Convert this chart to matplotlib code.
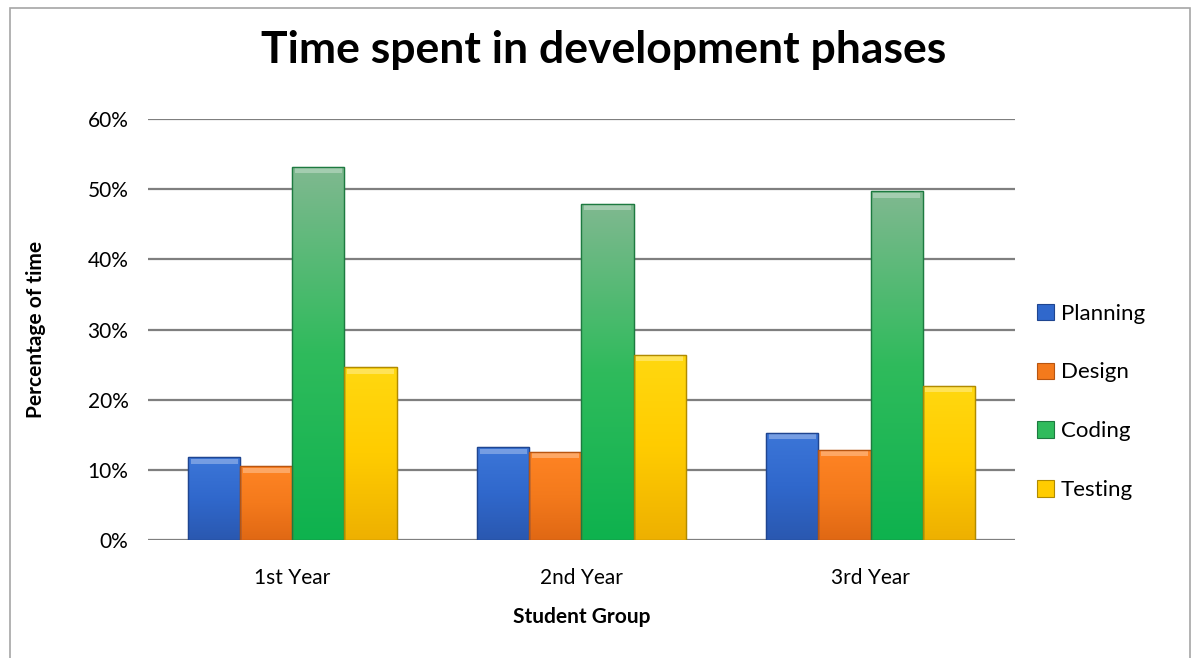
import numpy as np
import matplotlib.pyplot as plt
from matplotlib.colors import LinearSegmentedColormap
from matplotlib.patches import Rectangle
from matplotlib.ticker import PercentFormatter

plt.rcParams['font.family'] = ['Lato', 'DejaVu Sans']

groups = ['1st Year', '2nd Year', '3rd Year']
phases = ['Planning', 'Design', 'Coding', 'Testing']
planning = [11.8, 13.2, 15.3]
design = [10.5, 12.6, 12.9]
coding = [53.2, 47.9, 49.7]
testing = [24.6, 26.4, 22.0]

# (top, middle, bottom) shades for the bevelled look
shades = {
    'Planning': ('#3c76d8', '#3068cc', '#2a58b0'),
    'Design': ('#ff8424', '#f47a1c', '#e06814'),
    'Coding': ('#80b890', '#2fbb5c', '#0eb24e'),
    'Testing': ('#ffd810', '#ffcc00', '#eeb000'),
}
edges = {'Planning': '#1f4590', 'Design': '#b85510',
         'Coding': '#1d7a40', 'Testing': '#b08a00'}


def gradient_bars(ax, bars, name):
    cmap = LinearSegmentedColormap.from_list(name, list(shades[name]))
    grad = np.linspace(0, 1, 256).reshape(-1, 1)
    for b in bars:
        x0, y0 = b.get_x(), b.get_y()
        w, h = b.get_width(), b.get_height()
        im = ax.imshow(grad, cmap=cmap, aspect='auto', origin='upper',
                       extent=(x0, x0 + w, y0, y0 + h), zorder=3)
        im.set_clip_path(b)
        # light strip at the top of each bar
        ax.add_patch(Rectangle((x0 + w * 0.05, y0 + h - 0.9), w * 0.9, 0.7,
                               color='white', alpha=0.3, lw=0, zorder=4))
        # outline drawn above the gradient
        ax.add_patch(Rectangle((x0, y0), w, h, fill=False,
                               edgecolor=edges[name], lw=1.0, zorder=5))


fig = plt.figure(figsize=(11.95, 6.58), dpi=100)
ax = fig.add_axes([0.1238, 0.1793, 0.7256, 0.6398])

# chart frame
fig.patches.append(Rectangle((10 / 1195, -0.01), 1180 / 1195, 1 - 8 / 658 + 0.01,
                             transform=fig.transFigure, fill=False,
                             edgecolor='#a6a6a6', lw=1.2))

x = np.arange(len(groups))
w = 0.18
series = [planning, design, coding, testing]
for i, (name, vals) in enumerate(zip(phases, series)):
    bars = ax.bar(x + (i - 1.5) * w, vals, w, color=shades[name][1],
                  edgecolor=edges[name], linewidth=0.8, label=name, zorder=2)
    gradient_bars(ax, bars, name)

ax.set_xlim(-0.5, 2.5)
ax.set_ylim(0, 60)
ax.set_yticks(np.arange(0, 61, 10))
ax.yaxis.set_major_formatter(PercentFormatter(decimals=0))
ax.grid(axis='y', color='#7f7f7f', lw=1.6, zorder=0)
ax.set_axisbelow(True)
for s in ax.spines.values():
    s.set_visible(False)
ax.tick_params(length=0, labelsize=15)
ax.tick_params(axis='y', pad=14)
ax.set_xticks(x)
ax.set_xticklabels(groups)
ax.tick_params(axis='x', pad=20)

ax.set_xlabel('Student Group', fontsize=15, fontweight='bold', labelpad=14)
ax.set_ylabel('Percentage of time', fontsize=15, fontweight='bold', labelpad=30)
fig.suptitle('Time spent in development phases', x=0.505, y=0.955,
             fontsize=32, fontweight='bold')

ax.legend(loc='center left', bbox_to_anchor=(1.0, 0.328), frameon=False,
          fontsize=16, labelspacing=1.75, handlelength=0.75, handleheight=0.75,
          handletextpad=0.3, borderaxespad=0.6)

fig.savefig('out.png', dpi=100)
